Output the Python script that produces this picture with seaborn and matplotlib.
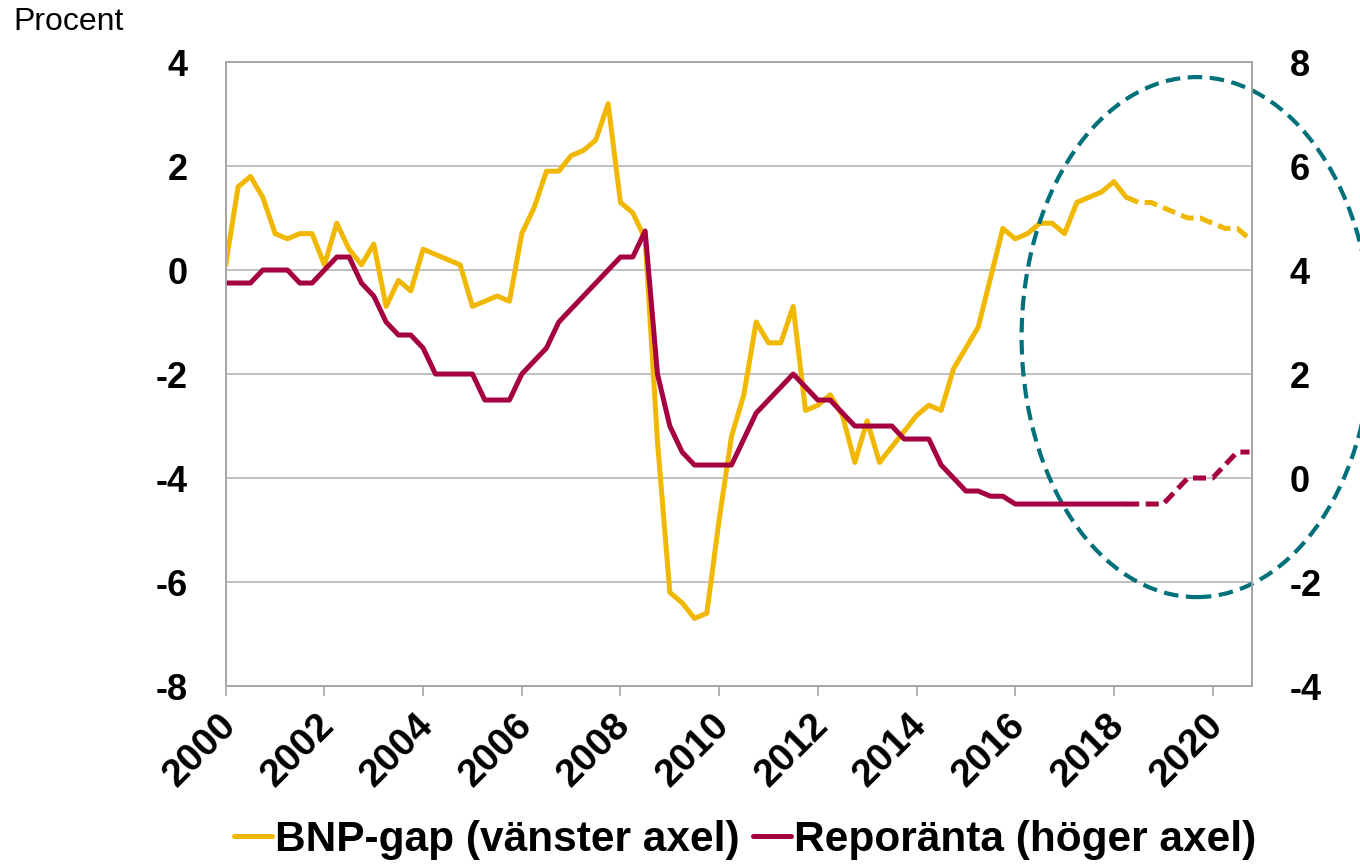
import matplotlib
matplotlib.use("Agg")
import matplotlib.pyplot as plt
from matplotlib.lines import Line2D
from matplotlib.patches import Ellipse
from matplotlib.transforms import ScaledTranslation
import numpy as np
import pandas as pd
import seaborn as sns

# Quarterly data, 2000Q1 - 2020Q4 (outcome up to 2018Q2, forecast after)
quarters = 2000 + np.arange(84) / 4
bnp_gap = [
    0.1, 1.6, 1.8, 1.4,    0.7, 0.6, 0.7, 0.7,    0.1, 0.9, 0.4, 0.1,
    0.5, -0.7, -0.2, -0.4, 0.4, 0.3, 0.2, 0.1,    -0.7, -0.6, -0.5, -0.6,
    0.7, 1.2, 1.9, 1.9,    2.2, 2.3, 2.5, 3.2,    1.3, 1.1, 0.6, -3.3,
    -6.2, -6.4, -6.7, -6.6, -4.8, -3.2, -2.4, -1.0, -1.4, -1.4, -0.7, -2.7,
    -2.6, -2.4, -2.8, -3.7, -2.9, -3.7, -3.4, -3.1, -2.8, -2.6, -2.7, -1.9,
    -1.5, -1.1, -0.15, 0.8, 0.6, 0.7, 0.9, 0.9,   0.7, 1.3, 1.4, 1.5,
    1.7, 1.4, 1.3, 1.3,    1.2, 1.1, 1.0, 1.0,    0.9, 0.8, 0.8, 0.6,
]
reporanta = [
    3.75, 3.75, 3.75, 4.0,  4.0, 4.0, 3.75, 3.75,  4.0, 4.25, 4.25, 3.75,
    3.5, 3.0, 2.75, 2.75,   2.5, 2.0, 2.0, 2.0,    2.0, 1.5, 1.5, 1.5,
    2.0, 2.25, 2.5, 3.0,    3.25, 3.5, 3.75, 4.0,  4.25, 4.25, 4.75, 2.0,
    1.0, 0.5, 0.25, 0.25,   0.25, 0.25, 0.75, 1.25, 1.5, 1.75, 2.0, 1.75,
    1.5, 1.5, 1.25, 1.0,    1.0, 1.0, 1.0, 0.75,   0.75, 0.75, 0.25, 0.0,
    -0.25, -0.25, -0.35, -0.35, -0.5, -0.5, -0.5, -0.5, -0.5, -0.5, -0.5, -0.5,
    -0.5, -0.5, -0.5, -0.5, -0.5, -0.25, 0.0, 0.0, 0.0, 0.25, 0.5, 0.5,
]
last_outcome = 73  # index of 2018Q2

YELLOW = "#F0B800"
RED = "#A50040"
TEAL = "#00707A"
GRID = "#BBBBBB"
LW = 3.6

df = pd.DataFrame({"year": quarters, "gap": bnp_gap, "repo": reporanta})
hist = df.iloc[:last_outcome + 1]
prog = df.iloc[last_outcome:]

sns.set_theme(style="white")
plt.rcParams["font.family"] = ["Liberation Sans", "DejaVu Sans"]
plt.rcParams["axes.unicode_minus"] = False
plt.rcParams["text.color"] = "black"
plt.rcParams["xtick.color"] = "black"
plt.rcParams["ytick.color"] = "black"

fig, ax = plt.subplots(figsize=(13.6, 8.65), dpi=100)
fig.subplots_adjust(left=0.166, right=0.9206, top=0.9283, bottom=0.2069)
ax2 = ax.twinx()

dash = (0, (2.6, 1.3))
sns.lineplot(data=hist, x="year", y="gap", ax=ax, color=YELLOW, lw=LW)
sns.lineplot(data=prog, x="year", y="gap", ax=ax, color=YELLOW, lw=LW, linestyle=dash)
sns.lineplot(data=hist, x="year", y="repo", ax=ax2, color=RED, lw=LW)
sns.lineplot(data=prog, x="year", y="repo", ax=ax2, color=RED, lw=LW, linestyle=dash)

ax.set_xlim(2000, 2020.8)
ax.set_ylim(-8, 4)
ax2.set_ylim(-4, 8)
ax.set_yticks(range(-8, 5, 2))
ax2.set_yticks(range(-4, 9, 2))
ax.set_xticks(range(2000, 2021, 2))
for a in (ax, ax2):
    a.set_xlabel("")
    a.set_ylabel("")
    for s in a.spines.values():
        s.set_color("#A6A6A6")
        s.set_linewidth(1.3)

ax.grid(axis="y", color=GRID, lw=1.3)
ax.grid(axis="x", visible=False)
ax2.grid(False)

ax.tick_params(axis="y", length=0, pad=27.5, labelsize=26)
ax2.tick_params(axis="y", length=0, pad=27, labelsize=26)
ax.tick_params(axis="x", length=7, width=1.2, color="#A6A6A6", direction="out",
               pad=8, labelsize=28, bottom=True, labelcolor="black")
for lab in ax.get_yticklabels() + ax2.get_yticklabels():
    lab.set_fontweight("bold")
shift = ScaledTranslation(-8 / 100, 0, fig.dpi_scale_trans)
for lab in ax.get_xticklabels():
    lab.set_fontweight("bold")
    lab.set_rotation(45)
    lab.set_ha("right")
    lab.set_va("top")
    lab.set_rotation_mode("anchor")
    lab.set_transform(lab.get_transform() + shift)

# marked forecast area
ell = Ellipse((2019.68, 2.71), width=7.1, height=10.0, fill=False,
              edgecolor=TEAL, lw=3, linestyle=(0, (3.5, 1.8)), clip_on=False)
ax2.add_patch(ell)

fig.text(0.0096, 0.992, "Procent", fontsize=23, ha="left", va="top")

handles = [Line2D([], [], color=YELLOW, lw=LW), Line2D([], [], color=RED, lw=LW)]
fig.legend(handles, ["BNP-gap (vänster axel)", "Reporänta (höger axel)"],
           loc="center", bbox_to_anchor=(745 / 1360, 1 - 840 / 865), ncol=2,
           frameon=False, prop={"size": 30.5, "weight": "bold"},
           handlelength=0.9, handletextpad=0.08, columnspacing=0.3)

fig.savefig("out.png", dpi=100)
